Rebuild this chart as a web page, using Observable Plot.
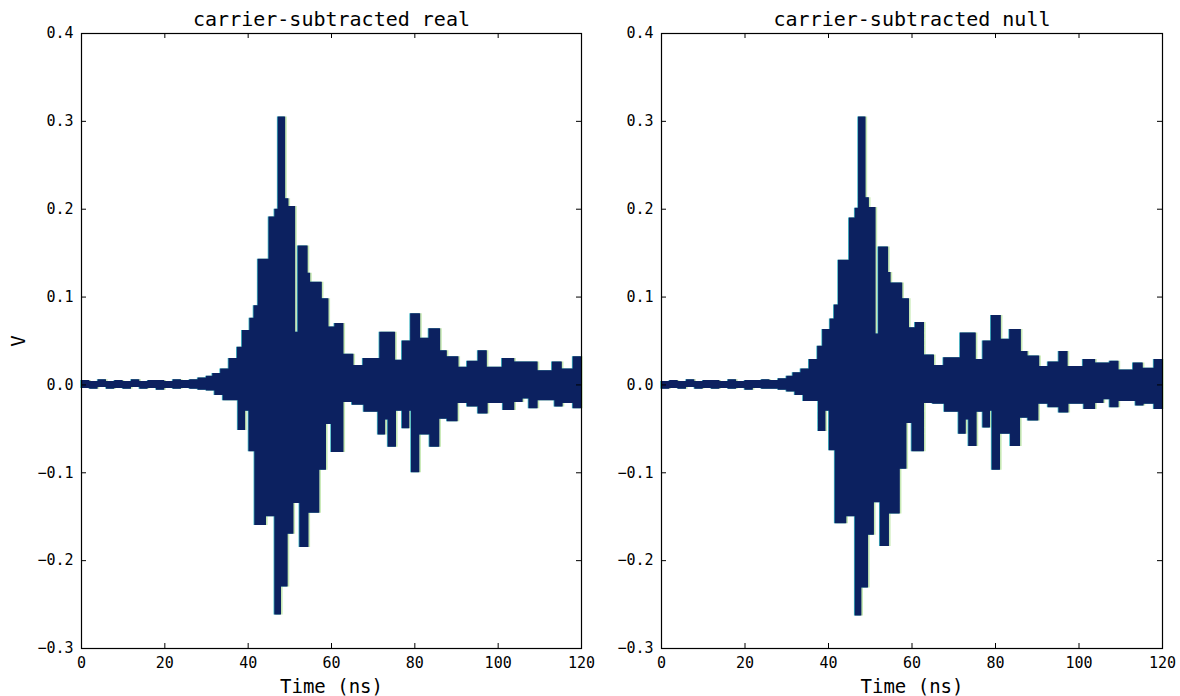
<!DOCTYPE html>
<html>
<head>
<meta charset="utf-8">
<script src="https://cdn.jsdelivr.net/npm/d3@7"></script>
<script src="https://cdn.jsdelivr.net/npm/@observablehq/plot@0.6"></script>
<style>
  html, body { margin: 0; padding: 0; background: #fff; }
  #wrap { display: flex; width: 1180px; height: 696px; position: relative; }
  #wrap svg { position: relative; }
  #wrap svg:first-child { z-index: 2; }
</style>
</head>
<body>
<div id="wrap"></div>
<script>
// ---- Data (envelope of the dense carrier-subtracted traces) ----
const panelTitles = ["carrier-subtracted real", "carrier-subtracted null"];
const xLabel = "Time (ns)";
const yLabel = "V";
const xTicks = [0, 20, 40, 60, 80, 100, 120];
const yTicks = [-0.3, -0.2, -0.1, 0.0, 0.1, 0.2, 0.3, 0.4];

// start times (ns) of the steps of the upper envelope
const upTimes = [0, 2, 4, 6, 8, 10, 12, 14, 16, 18, 20, 22, 24, 26, 28, 30,
  31.5, 33.4, 35.4, 37.4, 38.6, 40.4, 41.4, 42.4, 45, 46.4, 47.2, 49, 49.8, 51.4, 52,
  54.4, 55, 57.8, 59.4, 60.8, 63, 65.4, 67.6, 71.6, 75.4, 77, 79, 81.4, 83.4, 86.2,
  87.8, 90.6, 92.6, 95.2, 97.4, 101, 104, 107.4, 109.6, 113, 115.4, 118, 120];
const realUp = [0.005, 0.004, 0.006, 0.004, 0.005, 0.004, 0.006, 0.004, 0.005, 0.005, 0.004, 0.006, 0.005, 0.006, 0.008, 0.010,
  0.013, 0.018, 0.030, 0.043, 0.062, 0.076, 0.090, 0.143, 0.191, 0.200, 0.305, 0.212, 0.203, 0.060, 0.158,
  0.127, 0.117, 0.098, 0.066, 0.070, 0.035, 0.022, 0.030, 0.060, 0.028, 0.050, 0.081, 0.053, 0.064, 0.039,
  0.032, 0.020, 0.027, 0.039, 0.020, 0.030, 0.026, 0.026, 0.016, 0.026, 0.018, 0.032, 0.032];
const nullUp = [0.004, 0.005, 0.004, 0.006, 0.004, 0.005, 0.005, 0.004, 0.006, 0.004, 0.005, 0.005, 0.006, 0.005, 0.007, 0.010,
  0.014, 0.018, 0.029, 0.044, 0.063, 0.075, 0.091, 0.142, 0.190, 0.201, 0.305, 0.213, 0.202, 0.058, 0.157,
  0.128, 0.116, 0.098, 0.065, 0.071, 0.034, 0.022, 0.031, 0.059, 0.029, 0.050, 0.079, 0.052, 0.063, 0.038,
  0.033, 0.021, 0.026, 0.038, 0.021, 0.029, 0.025, 0.027, 0.017, 0.025, 0.019, 0.029, 0.029];

// start times (ns) of the steps of the lower envelope
const lowTimes = [0, 2, 4, 6, 8, 10, 12, 14, 16, 18, 20, 22, 24, 26, 28, 30,
  32, 34, 37.6, 39.4, 40.2, 41.6, 44.4, 46.4, 48, 49.6, 51, 52.4, 54.6, 57.2, 58.8, 60,
  63, 65, 67.8, 71.2, 73, 73.6, 75.6, 77, 78.8, 79.2, 81.2, 83.6, 86, 87.8, 90.4, 92.6,
  95.2, 97.6, 101.2, 104, 106, 107.4, 109.6, 113.6, 115.6, 118, 120];
const realLow = [-0.004, -0.005, -0.003, -0.005, -0.004, -0.005, -0.003, -0.005, -0.004, -0.006, -0.004, -0.005, -0.004, -0.005, -0.006, -0.007,
  -0.012, -0.018, -0.052, -0.030, -0.076, -0.160, -0.150, -0.262, -0.230, -0.170, -0.135, -0.185, -0.146, -0.097, -0.045, -0.077,
  -0.020, -0.023, -0.031, -0.057, -0.040, -0.071, -0.030, -0.050, -0.030, -0.100, -0.057, -0.071, -0.039, -0.042, -0.021, -0.025,
  -0.033, -0.021, -0.029, -0.020, -0.016, -0.027, -0.018, -0.025, -0.021, -0.027, -0.027];
const nullLow = [-0.005, -0.004, -0.005, -0.003, -0.005, -0.004, -0.005, -0.004, -0.005, -0.004, -0.006, -0.004, -0.005, -0.005, -0.006, -0.008,
  -0.012, -0.019, -0.053, -0.030, -0.075, -0.158, -0.150, -0.263, -0.231, -0.171, -0.134, -0.184, -0.147, -0.096, -0.044, -0.076,
  -0.021, -0.022, -0.031, -0.056, -0.040, -0.070, -0.031, -0.049, -0.030, -0.097, -0.056, -0.070, -0.038, -0.041, -0.022, -0.026,
  -0.032, -0.022, -0.028, -0.021, -0.017, -0.026, -0.019, -0.024, -0.022, -0.028, -0.028];

// ---- Chart ----
const W = 590, H = 696, MT = 33, MB = 48;
const navy = "#0c2160";

// merge the two step envelopes onto the union of their breakpoints
function envelope(up, low) {
  const times = Array.from(new Set([...upTimes, ...lowTimes])).sort((a, b) => a - b);
  return times.map(t => ({
    t,
    hi: up[d3.bisectRight(upTimes, t) - 1],
    lo: low[d3.bisectRight(lowTimes, t) - 1]
  }));
}

function panel(title, up, low, withYLabel, ML, MR) {
  const data = envelope(up, low);
  const pw = W - ML - MR, ph = H - MT - MB;
  const marks = [];
  // envelope layers: light fringe, blue fringe, dark fill
  for (const [fill, dx] of [["#c7e9b4", 1.6], ["#41b6c4", -0.8], [navy, 0]]) {
    marks.push(Plot.areaY(data, {x: "t", y1: "lo", y2: "hi", curve: "step-after", fill, dx}));
  }
  marks.push(
    Plot.frame({stroke: "black", strokeWidth: 1.2}),
    // inward ticks on all four sides
    Plot.tickX(xTicks, {x: d => d, insetTop: ph - 5, stroke: "black"}),
    Plot.tickX(xTicks, {x: d => d, insetBottom: ph - 5, stroke: "black"}),
    Plot.tickY(yTicks, {y: d => d, insetRight: pw - 5, stroke: "black"}),
    Plot.tickY(yTicks, {y: d => d, insetLeft: pw - 5, stroke: "black"}),
    Plot.axisX(xTicks, {tickSize: 0, tickPadding: 9, label: null, fontSize: 15, tickFormat: d3.format("d")}),
    Plot.axisY(yTicks, {tickSize: 0, tickPadding: 8, label: null, fontSize: 15, tickFormat: d3.format(".1f")}),
    Plot.text([title], {frameAnchor: "top", lineAnchor: "middle", textAnchor: "middle", dy: -14, fontSize: 20}),
    Plot.text([xLabel], {frameAnchor: "bottom", lineAnchor: "middle", textAnchor: "middle", dy: 38, fontSize: 19})
  );
  if (withYLabel) marks.push(Plot.text([yLabel], {frameAnchor: "left", lineAnchor: "middle", textAnchor: "middle", dx: -63, rotate: -90, fontSize: 19}));
  return Plot.plot({
    width: W, height: H,
    marginLeft: ML, marginRight: MR, marginTop: MT, marginBottom: MB,
    x: {domain: [0, 120]},
    y: {domain: [-0.3, 0.4]},
    style: {fontFamily: "'DejaVu Sans Mono', monospace", fontSize: "15px", color: "black", background: "transparent", overflow: "visible"},
    marks
  });
}

const wrap = document.getElementById("wrap");
wrap.appendChild(panel(panelTitles[0], realUp, realLow, true, 81, 9));
wrap.appendChild(panel(panelTitles[1], nullUp, nullLow, false, 71, 18));
</script>
</body>
</html>
